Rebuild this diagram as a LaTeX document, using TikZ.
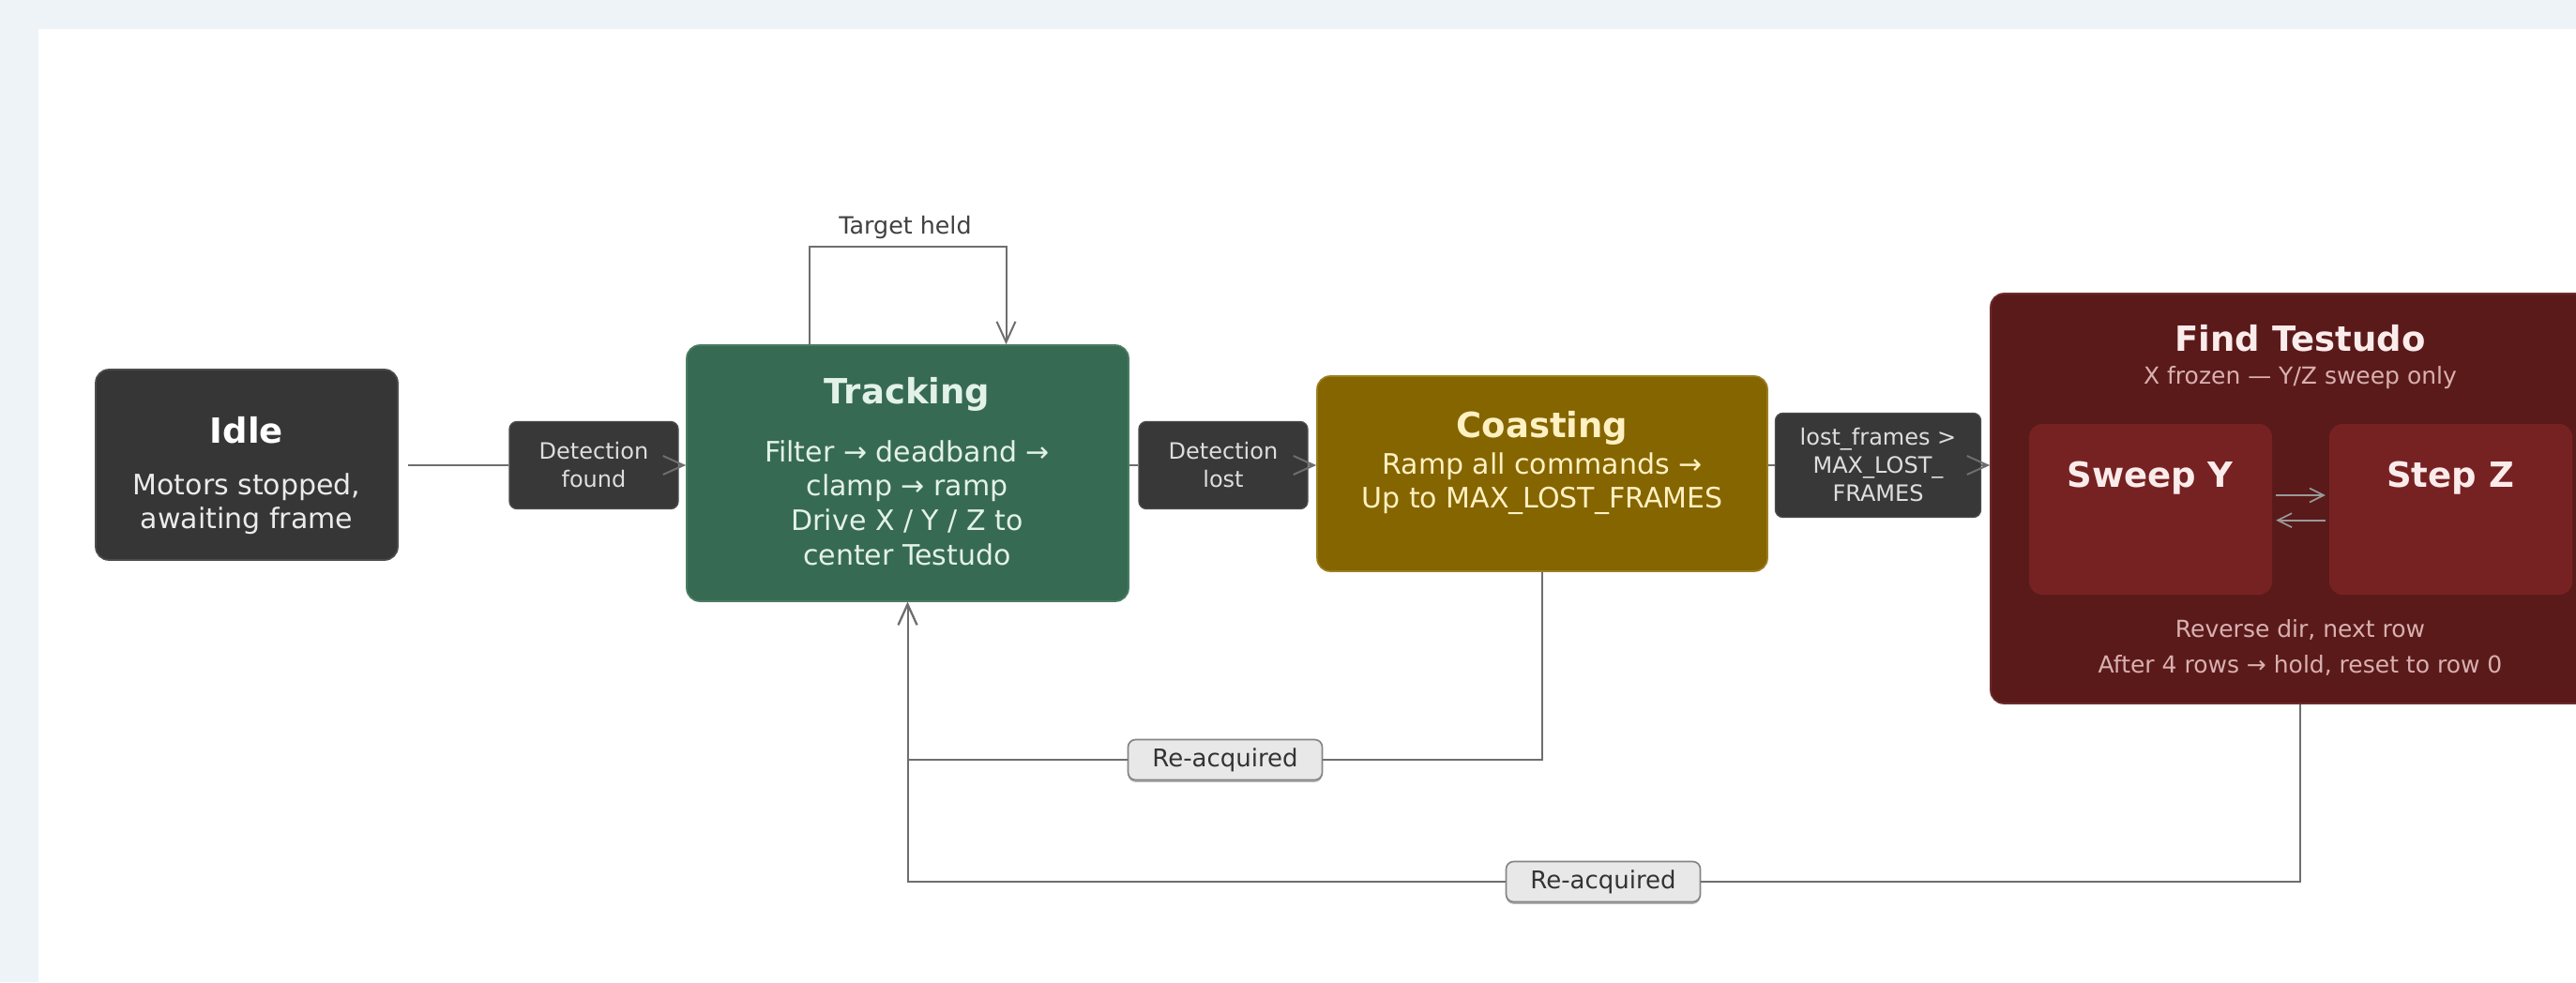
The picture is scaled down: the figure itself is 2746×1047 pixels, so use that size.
\documentclass[tikz,border=0pt]{standalone}
\usepackage{fontspec}
\setmainfont{DejaVu Sans}
\usetikzlibrary{arrows.meta,shadows}
\definecolor{bgout}{HTML}{EEF3F8}
\definecolor{idlefill}{HTML}{363636}
\definecolor{idleedge}{HTML}{4C4C4C}
\definecolor{trackfill}{HTML}{376A52}
\definecolor{trackedge}{HTML}{4A7C63}
\definecolor{tracktext}{HTML}{E3F2E8}
\definecolor{coastfill}{HTML}{856500}
\definecolor{coastedge}{HTML}{9C7E22}
\definecolor{coasttext}{HTML}{FFF1C2}
\definecolor{findfill}{HTML}{5B1A1A}
\definecolor{findedge}{HTML}{6E2B2B}
\definecolor{innerfill}{HTML}{772222}
\definecolor{findtext}{HTML}{FBECEC}
\definecolor{findsub}{HTML}{D9B0B0}
\definecolor{labfill}{HTML}{383838}
\definecolor{labtext}{HTML}{DEDEDE}
\definecolor{linecol}{HTML}{6E6E6E}
\definecolor{reacqfill}{HTML}{E8E8E8}
\definecolor{reacqedge}{HTML}{858585}
\begin{document}
\begin{tikzpicture}[x=0.3pt,y=-0.3pt,
  statebox/.style={rounded corners=4.2pt, inner sep=0pt, line width=0.5pt},
  ttl/.style={font=\bfseries\fontsize{11.1}{13}\selectfont},
  bodytxt/.style={align=center, font=\fontsize{9}{10.9}\selectfont, inner sep=0pt},
  tlabel/.style={rounded corners=2.4pt, fill=labfill, draw=idleedge, line width=0.4pt, inner sep=0pt,
    text=labtext, align=center, font=\fontsize{7.2}{9}\selectfont},
  reacq/.style={rounded corners=2.4pt, fill=reacqfill, draw=reacqedge, line width=0.5pt, inner sep=0pt,
    text=black!80, font=\fontsize{7.8}{9}\selectfont, minimum width=62.1pt, minimum height=12.9pt,
    drop shadow={shadow xshift=0pt, shadow yshift=-0.7pt, opacity=0.3, fill=black}},
  conn/.style={draw=linecol, line width=0.6pt},
  tip/.style={-{Straight Barb[length=6.6pt,width=6pt,line width=0.6pt]}},
  smalltip/.style={-{Straight Barb[length=4.5pt,width=4.5pt,line width=0.5pt]}}
]
\useasboundingbox (0,0) rectangle (2746,1047);
\fill[bgout] (0,0) rectangle (2746,1047);
\fill[white] (41,31) rectangle (2746,1047);

% states
\node[statebox, fill=idlefill, draw=idleedge, minimum width=96.6pt, minimum height=60.9pt] (idle) at (263,495.5) {};
\node[ttl, text=white] (idlet) at (263,459) {Idle};
\node[bodytxt, text=white!92!black] (idleb) at (263,537) {Motors stopped,\\awaiting frame};

\node[statebox, fill=trackfill, draw=trackedge, minimum width=141.3pt, minimum height=81.9pt] (track) at (967.5,504.5) {};
\node[ttl, text=tracktext] (trackt) at (967,420) {Tracking};
\node[bodytxt, text=tracktext, font=\fontsize{9}{11}\selectfont] (trackb) at (967,536) {Filter → deadband →\\clamp → ramp\\Drive X / Y / Z to\\center Testudo};

\node[statebox, fill=coastfill, draw=coastedge, minimum width=144pt, minimum height=62.4pt] (coast) at (1644,505) {};
\node[ttl, text=coasttext] (coastt) at (1644,456) {Coasting};
\node[bodytxt, text=coasttext, font=\fontsize{9}{10.8}\selectfont] (coastb) at (1644,516) {Ramp all commands →\\Up to MAX\_LOST\_FRAMES};

\node[statebox, fill=findfill, draw=findedge, minimum width=198pt, minimum height=131.1pt] (find) at (2452,531.5) {};
\node[ttl, text=findtext] (findt) at (2452,361) {Find Testudo};
\node[font=\fontsize{7.5}{9}\selectfont, text=findsub, inner sep=0pt] (finds) at (2452,403) {X frozen — Y/Z sweep only};
\node[statebox, fill=innerfill, minimum width=77.7pt, minimum height=54.6pt] (sweep) at (2292.5,543) {};
\node[statebox, fill=innerfill, minimum width=77.7pt, minimum height=54.6pt] (stepz) at (2612.5,543) {};
\node[ttl, text=findtext] (sweept) at (2292,510) {Sweep Y};
\node[ttl, text=findtext] (stept) at (2612,510) {Step Z};
\node[bodytxt, text=findsub, font=\fontsize{7.5}{11.4}\selectfont] (findb) at (2452,690) {Reverse dir, next row\\After 4 rows → hold, reset to row 0};
\draw[draw=gray!80, line width=0.5pt, smalltip] ([xshift=1pt,yshift=4.5pt]sweep.east) -- ([xshift=-1pt,yshift=4.5pt]stepz.west);
\draw[draw=gray!80, line width=0.5pt, smalltip] ([xshift=-1pt,yshift=-3.5pt]stepz.west) -- ([xshift=1pt,yshift=-3.5pt]sweep.east);

% transition labels
\node[tlabel, minimum width=54pt, minimum height=27.9pt] (df) at (633,496) {Detection\\found};
\node[tlabel, minimum width=54pt, minimum height=27.9pt] (dl) at (1304,496) {Detection\\lost};
\node[tlabel, minimum width=65.7pt, minimum height=33.3pt] (lf) at (2002,496) {lost\_frames >\\MAX\_LOST\_\\FRAMES};

% connectors
\draw[conn, shorten <=3pt] (idle.east |- df) -- (df.west);
\draw[conn, tip] (df.east) -- (df.east -| track.west);
\draw[conn] (track.east |- dl) -- (dl.west);
\draw[conn, tip] (dl.east) -- (dl.east -| coast.west);
\draw[conn] (coast.east |- lf) -- (lf.west);
\draw[conn, tip] (lf.east) -- (lf.east -| find.west);

% self loop
\draw[conn, tip] ([xshift=-31.5pt]track.north) -- ++(0,-104) -| ([xshift=31.5pt]track.north);
\node[font=\fontsize{7.6}{9}\selectfont, text=black!75, inner sep=0pt] (th) at (965,243) {Target held};

% re-acquired
\node[reacq] (ra1) at (1306,810) {Re-acquired};
\node[reacq] (ra2) at (1709,940) {Re-acquired};
\draw[conn] (coast.south) |- (ra1.east);
\draw[conn, tip] (ra1.west) -| (track.south);
\draw[conn] (find.south) |- (ra2.east);
\draw[conn, tip] (ra2.west) -| (track.south);
\end{tikzpicture}
\end{document}
